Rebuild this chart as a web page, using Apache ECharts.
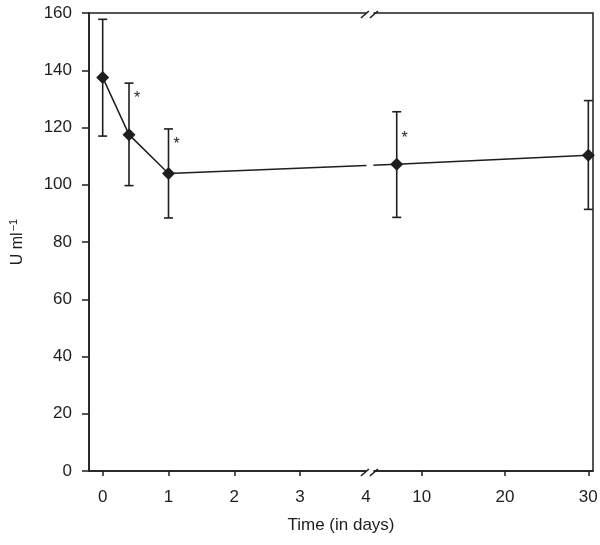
<!DOCTYPE html>
<html>
<head>
<meta charset="utf-8">
<script src="https://cdn.jsdelivr.net/npm/echarts@6.0.0/dist/echarts.min.js"></script>
<style>
html,body{margin:0;padding:0;background:#fff;}
#chart{width:600px;height:545px;}
</style>
</head>
<body>
<div id="chart"></div>
<script>
// ---- data ----
const tickDays = [0, 1, 2, 3, 4, 10, 20, 30];
const tickLabels = ['0', '1', '2', '3', '4', '10', '20', '30'];
const days = [0, 0.4, 1, 7, 30];
const means = [137.5, 117.5, 103.9, 107.2, 110.3];
const upper = [157.8, 135.5, 119.5, 125.5, 129.4];
const lower = [117.0, 99.7, 88.4, 88.6, 91.4];
const starLevel = [null, 130.8, 114.7, 116.8, null];
const breakDay = 4;

// broken time axis: 0-4 days linear, then compressed scale for 10-30 days
function pos(d) {
  return d <= 4 ? d : 4.848 + (d - 10) * 0.1266;
}

const FONT = "'Liberation Sans', Arial, Helvetica, sans-serif";
const INK = '#1e1e1e';

const tickPos = tickDays.filter(d => d !== breakDay).map(pos);
const labelPos = tickDays.map(pos);

function labelFor(v) {
  for (let i = 0; i < tickDays.length; i++) {
    if (Math.abs(pos(tickDays[i]) - v) < 1e-6) return tickLabels[i];
  }
  return '';
}

const chart = echarts.init(document.getElementById('chart'), null, {renderer: 'canvas'});

const option = {
  animation: false,
  backgroundColor: '#fff',
  textStyle: {fontFamily: FONT},
  grid: {
    left: 89, right: 7, top: 13, bottom: 74,
    outerBoundsMode: 'none',
    containLabel: false,
    show: true, borderColor: INK, borderWidth: 1.5, backgroundColor: 'transparent'
  },
  xAxis: {
    type: 'value',
    min: -0.208,
    max: 7.451,
    name: 'Time (in days)',
    nameLocation: 'middle',
    nameGap: 46,
    nameTextStyle: {fontSize: 17, color: INK, fontFamily: FONT},
    axisLine: {show: true, onZero: false, lineStyle: {color: INK, width: 1.5}},
    axisTick: {show: true, length: 5, customValues: tickPos, lineStyle: {color: INK, width: 1.5}},
    axisLabel: {
      customValues: labelPos,
      formatter: v => labelFor(v),
      fontSize: 17, color: INK, margin: 18, fontFamily: FONT
    },
    splitLine: {show: false}
  },
  yAxis: {
    type: 'value',
    min: 0, max: 160, interval: 20,
    name: 'U ml{sup|−1}',
    nameLocation: 'middle',
    nameGap: 61,
    nameRotate: 90,
    nameTextStyle: {
      fontSize: 16, color: INK, fontFamily: FONT,
      rich: {sup: {fontSize: 11, color: INK, fontFamily: FONT, padding: [0, 0, 9, 1]}}
    },
    axisLine: {show: true, onZero: false, lineStyle: {color: INK, width: 1.5}},
    axisTick: {show: true, length: 7, lineStyle: {color: INK, width: 1.5}},
    axisLabel: {fontSize: 17, color: INK, margin: 17, fontFamily: FONT},
    splitLine: {show: false}
  },
  series: [
    {
      type: 'custom',
      name: 'errors',
      z: 2,
      data: days.map((d, i) => [pos(d), lower[i], upper[i]]),
      renderItem: function (params, api) {
        const x = api.value(0);
        const lo = api.coord([x, api.value(1)]);
        const hi = api.coord([x, api.value(2)]);
        const cap = 4.5;
        const st = {stroke: INK, lineWidth: 1.6};
        return {
          type: 'group',
          children: [
            {type: 'line', shape: {x1: lo[0], y1: lo[1], x2: hi[0], y2: hi[1]}, style: st},
            {type: 'line', shape: {x1: lo[0] - cap, y1: lo[1], x2: lo[0] + cap, y2: lo[1]}, style: st},
            {type: 'line', shape: {x1: hi[0] - cap, y1: hi[1], x2: hi[0] + cap, y2: hi[1]}, style: st}
          ]
        };
      }
    },
    {
      type: 'line',
      name: 'mean',
      z: 3,
      data: days.map((d, i) => [pos(d), means[i]]),
      symbol: 'diamond',
      symbolSize: 13,
      showAllSymbol: true,
      itemStyle: {color: INK},
      lineStyle: {color: INK, width: 1.5}
    },
    {
      type: 'custom',
      name: 'stars',
      z: 4,
      data: days.map((d, i) => [pos(d), starLevel[i]]).filter(p => p[1] !== null),
      renderItem: function (params, api) {
        const p = api.coord([api.value(0), api.value(1)]);
        return {
          type: 'text',
          style: {
            x: p[0] + 8, y: p[1] + 2, text: '*',
            fontSize: 16, fill: INK, fontFamily: FONT,
            align: 'center', verticalAlign: 'middle'
          }
        };
      }
    },
    {
      type: 'custom',
      name: 'axisBreak',
      z: 10,
      clip: false,
      data: [[pos(breakDay)]],
      renderItem: function (params, api) {
        const b = api.coord([api.value(0), 0]);
        const t = api.coord([api.value(0), 160]);
        const x = b[0];
        const st = {stroke: INK, lineWidth: 1.6};
        const kids = [
          {type: 'rect', shape: {x: x + 0.5, y: t[1] - 4, width: 7, height: b[1] - t[1] + 8},
           style: {fill: '#fff'}}
        ];
        [t[1] + 1.5, b[1] + 1.5].forEach(y => {
          kids.push({type: 'line', shape: {x1: x - 5, y1: y + 3.5, x2: x + 3, y2: y - 3.5}, style: st});
          kids.push({type: 'line', shape: {x1: x + 4, y1: y + 3.5, x2: x + 12, y2: y - 3.5}, style: st});
        });
        return {type: 'group', children: kids};
      }
    }
  ]
};

chart.setOption(option);
</script>
</body>
</html>
